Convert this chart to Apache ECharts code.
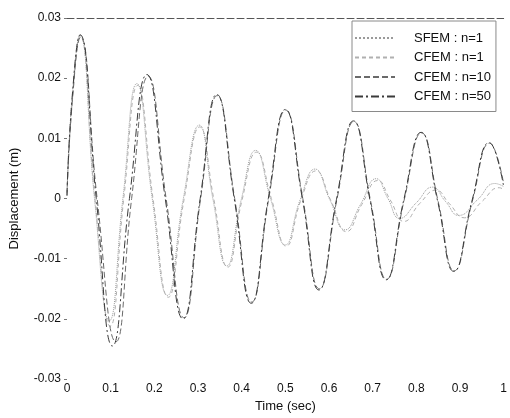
<!DOCTYPE html>
<html>
<head>
<meta charset="utf-8">
<script src="https://cdn.jsdelivr.net/npm/echarts@6/dist/echarts.min.js"></script>
<style>
html,body{margin:0;padding:0;background:#fff;}
#chart{width:510px;height:418px;}
</style>
</head>
<body>
<div id="chart"></div>
<script>
// Series names
const seriesNames = ['SFEM : n=1', 'CFEM : n=1', 'CFEM : n=10', 'CFEM : n=50'];

// [time (sec), displacement (m)]
const sfemN1 = [
  [0,0.001],[0.012,0.017],[0.03,0.0272],[0.063,0],[0.097,-0.0203],[0.128,0],[0.16,0.0191],
  [0.195,0.0001],[0.23,-0.0161],[0.266,-0.0002],[0.303,0.0122],[0.334,0],[0.366,-0.0112],
  [0.399,-0.0002],[0.432,0.008],[0.466,0],[0.5,-0.0077],[0.534,-0.0002],[0.568,0.0049],
  [0.602,-0.0002],[0.637,-0.0052],[0.672,-0.001],[0.708,0.0033],[0.735,0],[0.762,-0.0033],
  [0.8,-0.0007],[0.837,0.0019],[0.867,-0.0005],[0.897,-0.0028],[0.94,-0.0002],[0.98,0.0025],[1.0,0.002]
];
const cfemN1 = [
  [0,0.001],[0.012,0.016],[0.03,0.027],[0.064,0],[0.099,-0.0212],[0.13,0],[0.162,0.0188],
  [0.197,0],[0.232,-0.0164],[0.268,-0.0002],[0.304,0.0119],[0.336,0],[0.368,-0.0114],
  [0.401,-0.0002],[0.434,0.0077],[0.468,0],[0.502,-0.0079],[0.536,-0.0002],[0.57,0.0046],
  [0.604,-0.0003],[0.64,-0.0055],[0.675,-0.001],[0.712,0.003],[0.74,-0.0002],[0.772,-0.0038],
  [0.808,-0.0008],[0.845,0.0014],[0.875,-0.0008],[0.91,-0.0032],[0.95,-0.0005],[0.99,0.0018],[1.0,0.0015]
];
const cfemN10 = [
  [0,0.0005],[0.012,0.016],[0.031,0.0268],[0.069,0],[0.112,-0.0238],[0.148,0],[0.186,0.0203],
  [0.227,0],[0.268,-0.0198],[0.306,0],[0.344,0.0171],[0.384,0],[0.423,-0.0172],[0.462,0],
  [0.501,0.0147],[0.54,0],[0.578,-0.015],[0.618,-0.0002],[0.657,0.0128],[0.695,-0.0003],
  [0.732,-0.0134],[0.772,-0.0003],[0.812,0.0109],[0.85,-0.0005],[0.887,-0.012],[0.928,-0.0005],
  [0.968,0.0092],[1.0,0.0025]
];
const cfemN50 = [
  [0,0.0005],[0.012,0.017],[0.03,0.0272],[0.067,0],[0.104,-0.0245],[0.143,0],[0.183,0.0206],
  [0.225,0],[0.266,-0.02],[0.305,0],[0.343,0.0173],[0.383,0],[0.422,-0.0174],[0.461,0],
  [0.5,0.0148],[0.539,0],[0.577,-0.0152],[0.617,-0.0002],[0.656,0.0129],[0.694,-0.0003],
  [0.731,-0.0135],[0.771,-0.0003],[0.811,0.011],[0.849,-0.0005],[0.886,-0.0121],[0.927,-0.0005],
  [0.967,0.0093],[1.0,0.002]
];

// Axis tick values
const xTicks = [0,0.1,0.2,0.3,0.4,0.5,0.6,0.7,0.8,0.9,1];
const yTicks = [-0.03,-0.02,-0.01,0,0.01,0.02,0.03];

const chart = echarts.init(document.getElementById('chart'), null, {renderer:'canvas'});
const font = 'Liberation Sans, Arial, Helvetica, sans-serif';

const styles = [
  {color:'#9a9a9a', type:'dotted', width:1},
  {color:'#b0b0b0', type:[4,3], width:1},
  {color:'#6a6a6a', type:[6,3], width:1},
  {color:'#3a3a3a', type:[8,3,2,3], width:1}
];
const datas = [sfemN1, cfemN1, cfemN10, cfemN50];

chart.setOption({
  animation:false,
  backgroundColor:'#fff',
  textStyle:{fontFamily:font},
  grid:{left:65, right:3, top:18, bottom:36, show:false},
  legend:{
    orient:'vertical', left:352, top:21,
    itemWidth:40, itemHeight:14, itemGap:5.5,
    padding:[10,5,8,2],
    borderColor:'#8a8a8a', borderWidth:1,
    backgroundColor:'#fff',
    itemStyle:{opacity:0},
    textStyle:{fontSize:13, color:'#111', fontFamily:font, padding:[0,0,0,14], lineHeight:14},
    data:seriesNames
  },
  xAxis:[{
    type:'value', min:xTicks[0], max:xTicks[xTicks.length-1], interval:0.1,
    position:'bottom',
    name:'Time (sec)', nameLocation:'middle', nameGap:19,
    nameTextStyle:{fontSize:13, color:'#111', fontFamily:font},
    axisLine:{show:false}, axisTick:{show:false}, splitLine:{show:false},
    axisLabel:{fontSize:12, color:'#111', margin:4, fontFamily:font,
      formatter:v=>String(+v.toFixed(1))}
  },{
    type:'value', min:0, max:1, position:'top',
    axisLine:{show:true, lineStyle:{color:'#555', type:[7,3], width:1}},
    axisTick:{show:false}, axisLabel:{show:false}, splitLine:{show:false}
  }],
  yAxis:{
    type:'value', min:yTicks[0], max:yTicks[yTicks.length-1], interval:0.01,
    name:'Displacement (m)', nameLocation:'middle', nameGap:46, nameRotate:90,
    nameTextStyle:{fontSize:13, color:'#111', fontFamily:font},
    axisLine:{show:false},
    axisTick:{show:true, length:3, lineStyle:{color:'#777'}},
    splitLine:{show:false},
    axisLabel:{fontSize:12, color:'#111', margin:6, fontFamily:font,
      formatter:v=>Math.abs(v)<1e-9 ? '0' : v.toFixed(2)}
  },
  series: seriesNames.map((n,i)=>({
    name:n, type:'line', data:datas[i], xAxisIndex:0,
    smooth:0.5, symbol:'none', clip:true,
    lineStyle:styles[i], itemStyle:{color:styles[i].color},
    z: 2+i
  }))
});
</script>
</body>
</html>
